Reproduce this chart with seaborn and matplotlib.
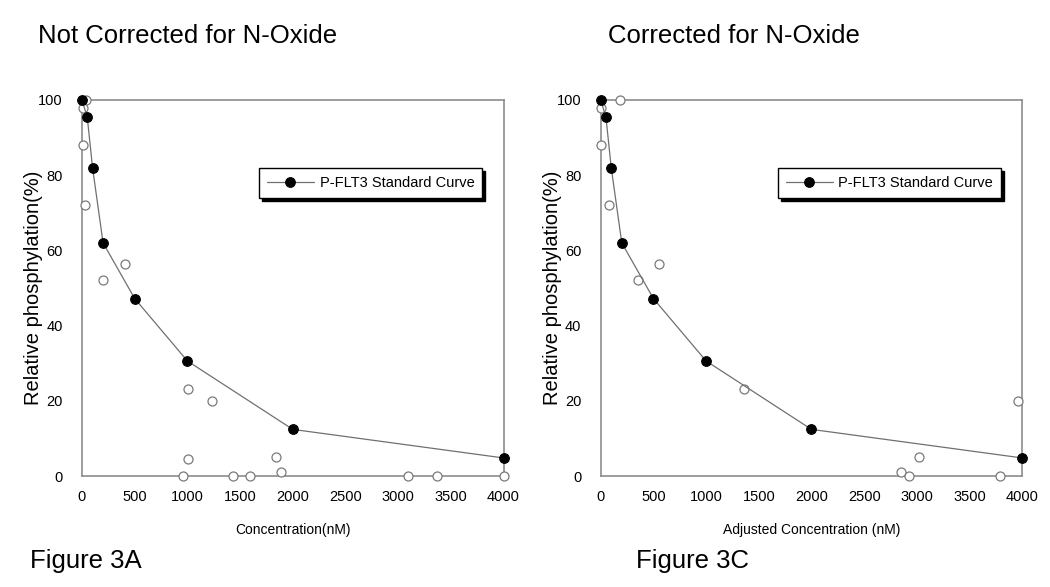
import matplotlib
matplotlib.use("Agg")
import matplotlib.pyplot as plt
import seaborn as sns
import pandas as pd

# ---- data ----
std_conc = [0, 50, 100, 200, 500, 1000, 2000, 4000]
std_phos = [100, 95.4, 82.0, 62.0, 47.2, 30.6, 12.4, 4.8]

a_conc = [35, 5, 5, 30, 410, 200, 1006, 1006, 956, 1234, 1437, 1598, 1842, 1893, 3098, 3367, 4000]
a_phos = [100, 98, 88, 72, 56.3, 52.1, 23.1, 4.4, 0, 19.9, 0, 0, 5.0, 1.1, 0, 0, 0]

c_conc = [183, 0, 0, 76, 557, 351, 1363, 2854, 2930, 3025, 3791, 3959]
c_phos = [100, 98, 88, 72, 56.3, 52.1, 23.1, 1.1, 0, 5.0, 0, 19.9]

x_ticks = [0, 500, 1000, 1500, 2000, 2500, 3000, 3500, 4000]
y_ticks = [0, 20, 40, 60, 80, 100]

titles = ["Not Corrected for N-Oxide", "Corrected for N-Oxide"]
fig_labels = ["Figure 3A", "Figure 3C"]
x_labels = ["Concentration(nM)", "Adjusted Concentration (nM)"]
y_label = "Relative phosphylation(%)"
legend_label = "P-FLT3 Standard Curve"

sns.set_style("white")
plt.rcParams["font.family"] = ["Liberation Sans", "DejaVu Sans"]
plt.rcParams["text.color"] = "black"
plt.rcParams["axes.labelcolor"] = "black"

W, H = 1050, 587
fig = plt.figure(figsize=(W / 100, H / 100), dpi=100)

std_df = pd.DataFrame({"conc": std_conc, "phos": std_phos})
samples = [pd.DataFrame({"conc": a_conc, "phos": a_phos}),
           pd.DataFrame({"conc": c_conc, "phos": c_phos})]

ax_left_px = [82, 600.7]
ax_w_px = 421.5
ax_top_px, ax_bot_px = 100, 476
title_x_px = [38, 608]
figlab_x_px = [30, 636]

for i in range(2):
    ax = fig.add_axes([ax_left_px[i] / W, 1 - ax_bot_px / H, ax_w_px / W, (ax_bot_px - ax_top_px) / H])
    sns.scatterplot(data=samples[i], x="conc", y="phos", ax=ax, marker="o", s=42,
                    facecolor="white", edgecolor="#7a7a7a", linewidth=0.9, clip_on=False, zorder=3)
    sns.lineplot(data=std_df, x="conc", y="phos", ax=ax, color="#707070", linewidth=0.9,
                 marker="o", markersize=7, markerfacecolor="black", markeredgecolor="black",
                 label=legend_label, clip_on=False, zorder=4)
    ax.set_xlim(0, 4000)
    ax.set_ylim(0, 100)
    ax.set_xticks(x_ticks)
    ax.set_yticks(y_ticks)
    ax.tick_params(axis="both", length=0, labelsize=10.5, colors="black")
    ax.tick_params(axis="y", pad=14)
    ax.tick_params(axis="x", pad=10)
    for sp in ax.spines.values():
        sp.set_color("#8c8c8c")
        sp.set_linewidth(1.2)
    ax.set_xlabel(x_labels[i], fontsize=10, labelpad=14)
    ax.set_ylabel(y_label, fontsize=14.5)
    ax.yaxis.set_label_coords(-0.092, 0.5)
    leg = ax.legend(loc="upper right", bbox_to_anchor=(0.95, 0.82), borderaxespad=0,
                    frameon=True, fancybox=False, fontsize=10.5, handlelength=3.2,
                    handletextpad=0.4, borderpad=0.55,
                    shadow={"color": "black", "alpha": 1.0, "ox": 2.2, "oy": -2.2})
    leg.get_frame().set_edgecolor("black")
    leg.get_frame().set_linewidth(1.0)
    leg.get_frame().set_alpha(1)

    fig.text(title_x_px[i] / W, 1 - 43 / H, titles[i], fontsize=18.5, ha="left", va="baseline")
    fig.text(figlab_x_px[i] / W, 1 - 568 / H, fig_labels[i], fontsize=18.5, ha="left", va="baseline")

fig.savefig("out.png", dpi=100)
